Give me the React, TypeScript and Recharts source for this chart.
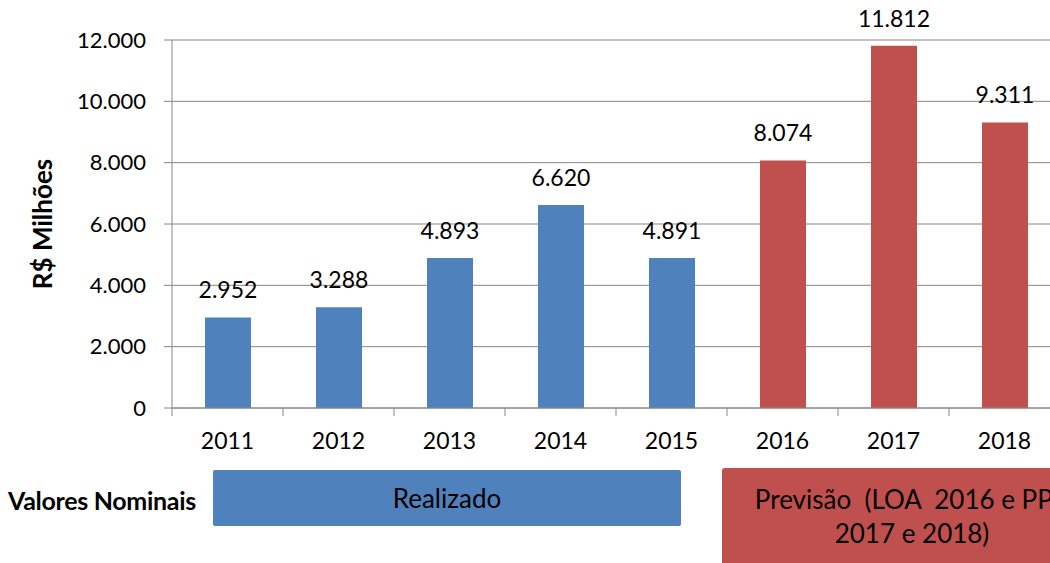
import { BarChart, Bar, XAxis, YAxis, CartesianGrid, Cell, LabelList } from "recharts";

const years = ["2011", "2012", "2013", "2014", "2015", "2016", "2017", "2018"];
const valores = [2952, 3288, 4893, 6620, 4891, 8074, 11812, 9311];
// realizado vs previsão
const fase = ["real", "real", "real", "real", "real", "prev", "prev", "prev"];
const yTicks = [0, 2000, 4000, 6000, 8000, 10000, 12000];

const BLUE = "#4F81BD";
const RED = "#C0504D";
const GRID = "#868686";
const FONT = "Lato, 'Noto Sans', sans-serif";

const fmt = (v: number) => String(v).replace(/\B(?=(\d{3})+(?!\d))/g, ".");

const data = years.map((year, i) => ({ year, valor: valores[i], fase: fase[i] }));

// ticks on the band boundaries, like Excel does
function XTick(props: any) {
  const { x, y, payload, index } = props;
  const half = payload && payload.offset ? payload.offset : 55.5;
  const axisY = y - 10;
  return (
    <g>
      <line x1={x - half} x2={x - half} y1={axisY} y2={axisY + 8} stroke={GRID} />
      {index === years.length - 1 && (
        <line x1={x + half} x2={x + half} y1={axisY} y2={axisY + 8} stroke={GRID} />
      )}
      <text x={x} y={axisY + 41} textAnchor="middle" fill="#000" fontSize={23} fontFamily={FONT}>
        {payload.value}
      </text>
    </g>
  );
}

export default function App() {
  return (
    <div
      style={{
        position: "fixed",
        left: 0,
        top: 0,
        width: 1050,
        height: 563,
        overflow: "hidden",
        background: "#fff",
        fontFamily: FONT,
      }}
    >
      <BarChart
        width={1070}
        height={470}
        data={data}
        margin={{ top: 40, right: 10, bottom: 0, left: 0 }}
      >
        <CartesianGrid vertical={false} stroke={GRID} strokeWidth={1} />
        <XAxis
          dataKey="year"
          height={62}
          axisLine={{ stroke: GRID }}
          tickLine={false}
          tickSize={8}
          tickMargin={2}
          interval={0}
          tick={<XTick />}
        />
        <YAxis
          width={172}
          domain={[0, 12000]}
          ticks={yTicks}
          interval={0}
          tickFormatter={fmt}
          axisLine={{ stroke: GRID }}
          tickLine={{ stroke: GRID }}
          tickSize={8}
          tickMargin={18}
          tick={{ fill: "#000", fontSize: 22, fontFamily: FONT }}
          label={{
            value: "R$ Milhões",
            angle: -90,
            position: "insideLeft",
            dx: 38,
            style: { fill: "#000", fontSize: 26, fontWeight: 700, fontFamily: FONT, textAnchor: "middle" },
          }}
        />
        <Bar dataKey="valor" barSize={46} isAnimationActive={false}>
          {data.map((d, i) => (
            <Cell key={`c-${i}`} fill={d.fase === "real" ? BLUE : RED} />
          ))}
          <LabelList
            dataKey="valor"
            position="top"
            offset={19}
            formatter={(v: any) => fmt(Number(v))}
            style={{ fill: "#000", fontSize: 23, fontFamily: FONT }}
          />
        </Bar>
      </BarChart>

      <div
        style={{
          position: "absolute",
          left: 8,
          top: 485,
          fontSize: 25,
          fontWeight: 700,
          lineHeight: "30px",
          letterSpacing: -0.3,
          color: "#000",
        }}
      >
        Valores Nominais
      </div>
      <div
        style={{
          position: "absolute",
          left: 213,
          top: 470,
          width: 468,
          height: 56,
          background: BLUE,
          borderRadius: 2,
          display: "flex",
          alignItems: "center",
          justifyContent: "center",
          fontSize: 26,
          color: "#000",
        }}
      >
        Realizado
      </div>
      <div
        style={{
          position: "absolute",
          left: 722,
          top: 468,
          width: 380,
          height: 100,
          background: RED,
          borderRadius: 3,
          boxSizing: "border-box",
          paddingTop: 14,
          textAlign: "center",
          fontSize: 26,
          lineHeight: "34px",
          color: "#000",
          whiteSpace: "pre",
        }}
      >
        {"Previsão  (LOA  2016 e PPA\n2017 e 2018)"}
      </div>
    </div>
  );
}
